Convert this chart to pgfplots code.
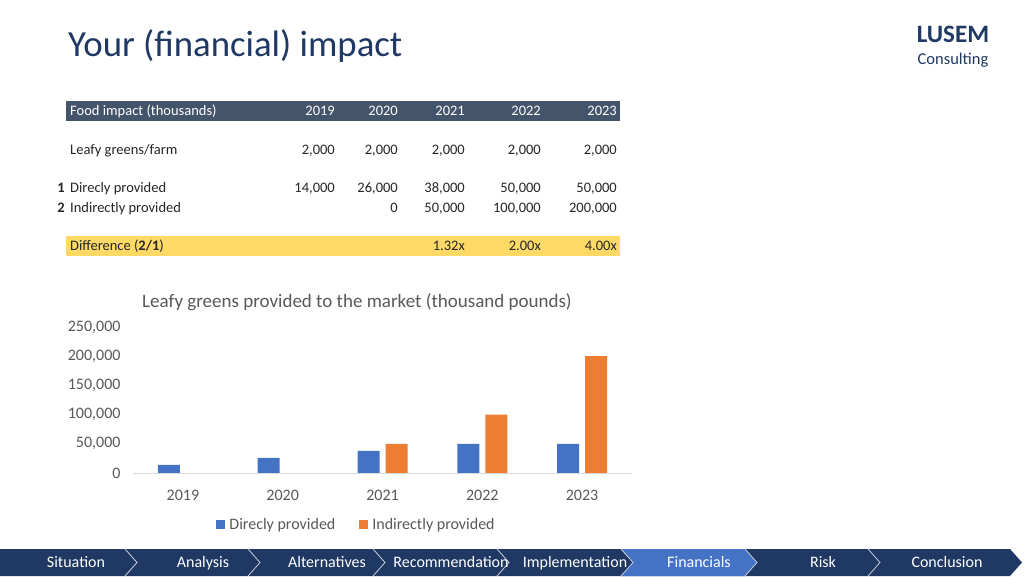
\documentclass[border=0pt]{standalone}
\usepackage{pgfplots}
\pgfplotsset{compat=1.18}
\usepackage{fontspec}
\setmainfont{Carlito}
\definecolor{navy}{HTML}{203864}
\definecolor{navlight}{HTML}{4472C4}
\definecolor{hdr}{HTML}{44546A}
\definecolor{yel}{HTML}{FFD966}
\definecolor{cblue}{HTML}{4472C4}
\definecolor{corange}{HTML}{ED7D31}
\definecolor{txtgray}{HTML}{595959}
\definecolor{tabtxt}{HTML}{262626}
\newcommand\tf{\fontsize{14.5}{17}\selectfont}
\newcommand\cf{\fontsize{16}{19}\selectfont}
\begin{document}
\begin{tikzpicture}
\useasboundingbox (0,0) rectangle (1024pt,576pt);
\fill[white] (0,0) rectangle (1024pt,576pt);
\begin{scope}[x=1pt,y=-1pt,yshift=576pt]
  % heading
  \node[anchor=base west,inner sep=0,text=navy,font=\fontsize{36.8}{42}\selectfont] at (68,57) {Your (financial) impact};
  \node[anchor=base,inner sep=0,text=navy,font=\fontsize{25}{28}\selectfont\bfseries] at (953,43) {LUSEM};
  \node[anchor=base,inner sep=0,text=navy,font=\fontsize{16.5}{19}\selectfont] at (953,65) {Consulting};
  % table
  \fill[hdr] (66,101) rectangle (620,121);
  \fill[yel] (66,236) rectangle (620,256);
  \begin{scope}[every node/.style={inner sep=0,font=\tf}]
    \node[anchor=base west,text=white] at (70,116) {Food impact (thousands)};
    \foreach \x/\y in {335/2019,398/2020,465/2021,541/2022,617/2023}
      \node[anchor=base east,text=white] at (\x,116) {\y};
    \node[anchor=base west,text=tabtxt] at (70,155) {Leafy greens/farm};
    \foreach \x in {335,398,465,541,617}
      \node[anchor=base east,text=tabtxt] at (\x,155) {2,000};
    \node[anchor=base east,text=tabtxt] at (65,193) {\bfseries 1};
    \node[anchor=base east,text=tabtxt] at (65,213) {\bfseries 2};
    \node[anchor=base west,text=tabtxt] at (70,193) {Direcly provided};
    \node[anchor=base west,text=tabtxt] at (70,213) {Indirectly provided};
    \foreach \x/\v in {335/14{,}000,398/26{,}000,465/38{,}000,541/50{,}000,617/50{,}000}
      \node[anchor=base east,text=tabtxt] at (\x,193) {\v};
    \foreach \x/\v in {398/0,465/50{,}000,541/100{,}000,617/200{,}000}
      \node[anchor=base east,text=tabtxt] at (\x,213) {\v};
    \node[anchor=base west,text=tabtxt] at (70,251) {Difference (\textbf{2/1})};
    \foreach \x/\v in {465/1.32x,541/2.00x,617/4.00x}
      \node[anchor=base east,text=tabtxt] at (\x,251) {\v};
  \end{scope}
  % chart title
  \node[anchor=base,inner sep=0,text=txtgray,font=\fontsize{19}{22}\selectfont] at (357,307) {Leafy greens provided to the market (thousand pounds)};
  % navigation bar
  \fill[navy] (0,549) -- (1010,549) -- (1022,562.5) -- (1010,576) -- (0,576) -- cycle;
  \fill[navlight] (621,549) -- (745,549) -- (757,562.5) -- (745,576) -- (621,576) -- (633,562.5) -- cycle;
  \foreach \x in {125,248,373,497,621,745,868}
    \draw[white!75!navy,line width=0.8pt] (\x,549) -- (\x+12,562.5) -- (\x,576);
  \begin{scope}[every node/.style={inner sep=0,anchor=base,text=white,font=\cf}]
    \node at (76,567) {Situation};
    \node at (203,567) {Analysis};
    \node at (327,567) {Alternatives};
    \node at (451,567) {Recommendation};
    \node at (575,567) {Implementation};
    \node at (699,567) {Financials};
    \node at (823,567) {Risk};
    \node at (947,567) {Conclusion};
  \end{scope}
\end{scope}
\begin{axis}[
  at={(133pt,103pt)}, anchor=south west,
  scale only axis, width=499pt, height=146pt,
  ybar=6pt, bar width=22pt,
  xmin=-0.5, xmax=4.5, ymin=0, ymax=250000,
  xtick={0,1,2,3,4}, xticklabels={2019,2020,2021,2022,2023},
  ytick={0,50000,100000,150000,200000,250000},
  yticklabels={0,{50,000},{100,000},{150,000},{200,000},{250,000}},
  scaled y ticks=false,
  axis line style={draw=none}, major tick length=0pt,
  tick label style={font=\cf, text=txtgray},
  xticklabel style={yshift=-14pt},
  yticklabel style={xshift=-9pt},
  clip=false,
  legend columns=2,
  legend style={at={(0.448,-0.355)}, anchor=center, draw=none, font=\cf, text=txtgray,
    /tikz/every odd column/.append style={column sep=2pt},
    /tikz/every even column/.append style={column sep=22pt}},
  legend image code/.code={\fill[#1] (0pt,-4.5pt) rectangle (9pt,4.5pt);},
]
\addplot[fill=cblue, draw=none] coordinates {(0,14000) (1,26000) (2,38000) (3,50000) (4,50000)};
\addplot[fill=corange, draw=none] coordinates {(1,0) (2,50000) (3,100000) (4,200000)};
\legend{Direcly provided, Indirectly provided}
\draw[black!15, line width=0.8pt] (axis cs:-0.5,0) -- (axis cs:4.5,0);
\end{axis}
\end{tikzpicture}
\end{document}
